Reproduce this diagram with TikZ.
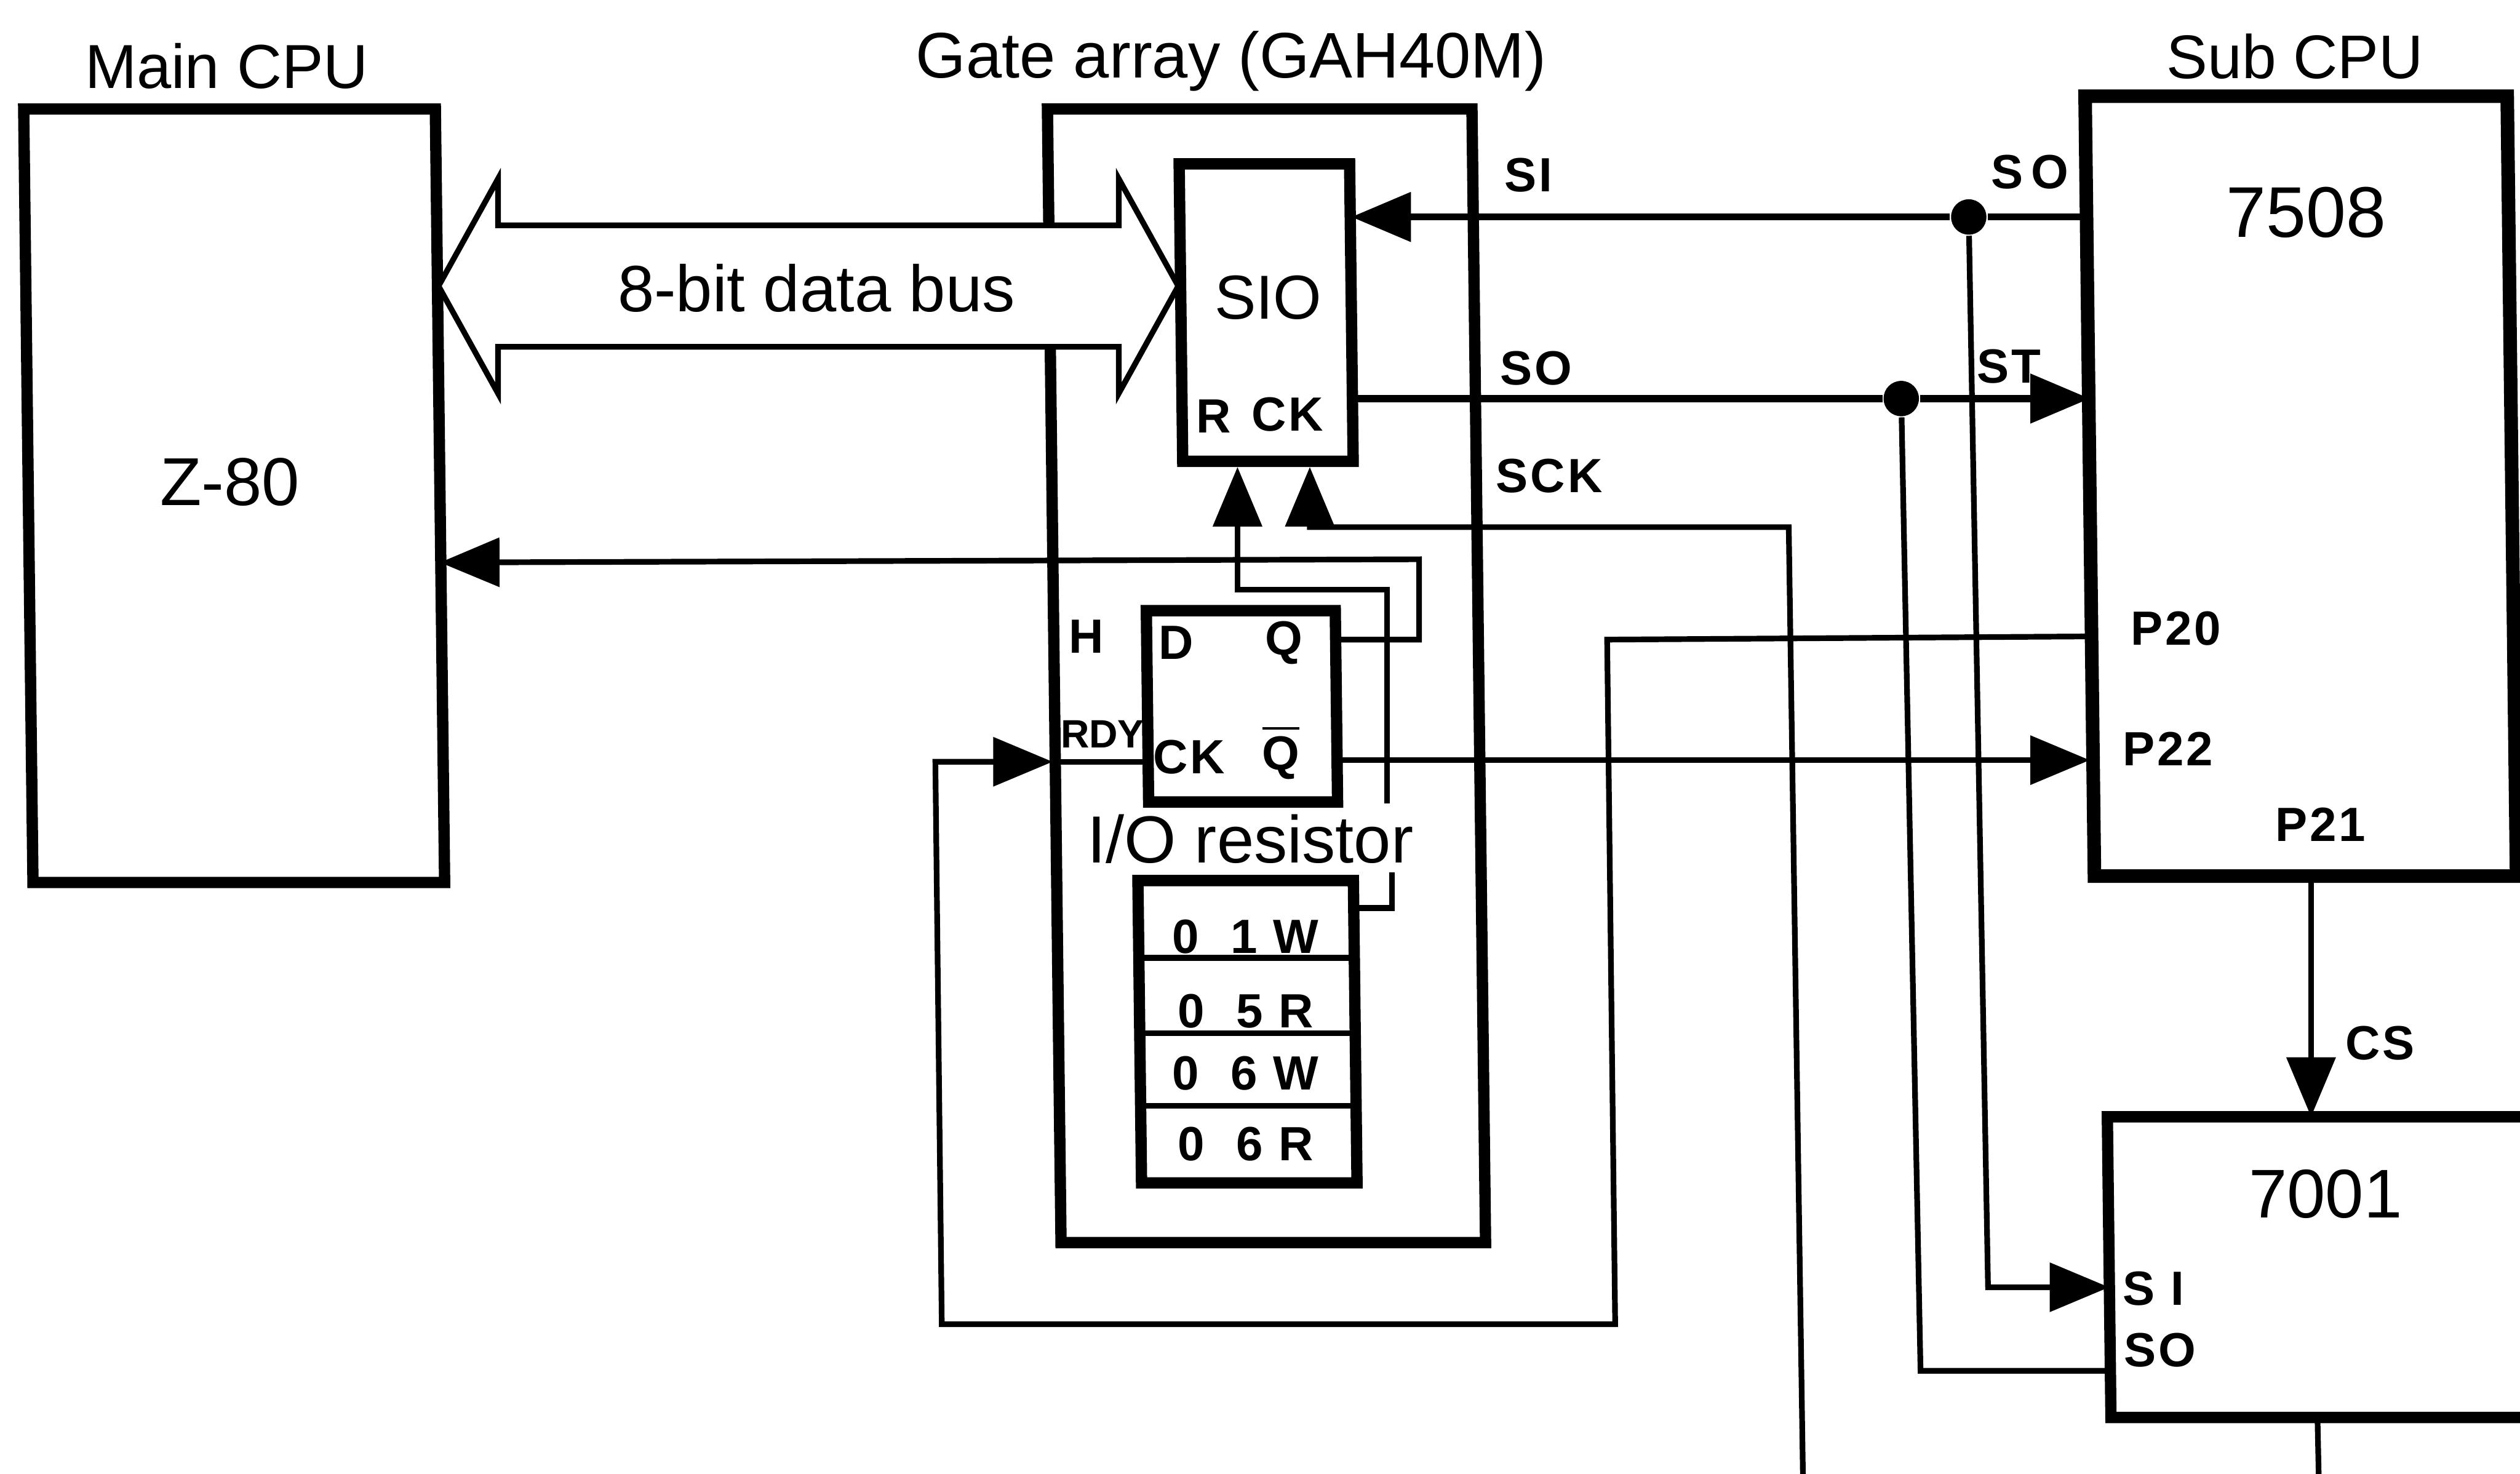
\documentclass[tikz,border=0pt]{standalone}
\usepackage{fontspec}
\setmainfont{Liberation Sans}
\newfontfamily\pinfont[LetterSpace=5.0]{Liberation Sans}
\usetikzlibrary{arrows.meta,shapes.arrows}
\tikzset{
    box/.style={draw, line width=2pt, outer sep=0pt, transform shape, minimum width=#1},
    wire/.style={line width=1pt},
    joint/.style={circle, fill, inner sep=0pt, minimum size=2.2mm},
    title/.style={inner sep=0pt},
    pinlabel/.style={font=\pinfont\fontsize{8.5pt}{10pt}\selectfont\bfseries, inner sep=0pt},
    busarrow/.style={draw, line width=1pt, fill=white, shape=double arrow,
        double arrow tip angle=122, double arrow head extend=2.9mm,
        text height=3.6mm, text depth=0.4mm, inner ysep=1.6mm, inner xsep=0pt,
        minimum height=4.6cm, font=\fontsize{11.6pt}{14pt}\selectfont},
}
\begin{document}
\begin{tikzpicture}[x=0.01cm, y=-0.01cm, >={Triangle[length=3.7mm,width=3mm]}]
    \useasboundingbox (0,0) rectangle (1568,917);
    \clip (0,0) rectangle (1568,917);
    % boxes, the page leans a little
    \begin{scope}[xslant=-0.012]
        \node[box=2.56cm, minimum height=4.81cm] (main) at (142,308.5) {};
        \node[box=2.64cm, minimum height=7.05cm] (gate) at (783,420.5) {};
        \node[box=2.625cm, minimum height=4.85cm, line width=2.4pt] (sub) at (1428,302.5) {};
        \node[box=3.37cm, minimum height=1.87cm] (seven) at (1471.5,788.5) {};
    \end{scope}
    % data bus goes over the gate array edge
    \node[busarrow] (bus) at (503,178) {\hspace*{1mm}8-bit data bus};
    \begin{scope}[xslant=-0.012]
        \node[box=1.06cm, minimum height=1.85cm, fill=white, outer ysep=1pt] (sio) at (785.5,194.5) {};
        \node[box=1.175cm, minimum height=1.19cm] (ff) at (767.5,439.5) {};
        \node[box=1.34cm, minimum height=1.88cm] (reg) at (768.5,642) {};
    \end{scope}
    \foreach \divy in {596,643,688}
        \draw[wire] (reg.west |- 0,\divy) -- (reg.east |- 0,\divy);
    % large labels
    \foreach \lx/\ly/\lsize/\ltext [count=\li] in {
        141/41/11/Main CPU, 766/38/11.4/Gate array (GAH40M), 1428/35/10.9/Sub CPU,
        143/300/12/Z-80, 1435/132/12.7/7508, 789/185/11/SIO, 1447/743/12.2/7001, 778/522/11.8/I\slash O resistor}
        \node[title, font=\fontsize{\lsize pt}{14pt}\selectfont] (big\li) at (\lx,\ly) {\ltext};
    % pin labels
    \foreach \lx/\ly/\ltext [count=\li] in {
        951/109/SI, 1263/107/S\,O, 956/229/SO, 1250/228/ST, 964/296/SCK,
        755/259/R, 801/258/CK, 676/396/H, 732/400/D, 799/400/Q,
        740/471/CK, 797/468/$\overline{\hbox{Q}}$, 1354/391/P20, 1349/466/P22, 1444/513/P21,
        1481/649/CS, 1340/802/S I, 1344/840/SO,
        775/583/0\ \ 1\ W, 775/629/0\ \ 5\ R, 775/668/0\ \ 6\ W, 775/712/0\ \ 6\ R}
        \node[pinlabel] (pin\li) at (\lx,\ly) {\ltext};
    \node[pinlabel, font=\fontsize{7pt}{8pt}\selectfont\bfseries] (pinrdy) at (686,457) {RDY};
    % joints
    \node[joint] (dotsi) at (1225,135) {};
    \node[joint] (dotso) at (1183,248) {};
    \coordinate (ckin) at (655,474);
    \coordinate (rtop) at (863,500);
    \coordinate (rbot) at (866,543);
    % wires
    \draw[wire,line width=1.25pt,->] (sub.west |- dotsi) -- (dotsi) -- (sio.east |- dotsi);
    \draw[wire,->] (dotsi) -- (1237,801) -- (seven.west |- 0,801);
    \draw[wire,line width=1.25pt,->] (sio.east |- dotso) -- (dotso) -- (sub.west |- dotso);
    \draw[wire] (dotso) -- (1195,853) -- (seven.west |- 0,853);
    \draw[wire,->] (1122,930) -- (1113,328) -- (815,328) -- (sio.south -| 815,0);
    \draw[wire,->] (ff.east |- 0,398) -- (883,398) -- (883,348) -- (main.east |- 0,350);
    \draw[wire,->] (rtop) -- (863,367) -- (770,367) -- (sio.south -| 770,0);
    \draw[wire] (reg.east |- 0,565) -- (866,565) -- (rbot);
    \draw[wire,->] (ff.east |- 0,473) -- (sub.west |- 0,473);
    \draw[wire,->] (sub.west |- 0,396) -- (1000,398) -- (1005,824) -- (586,824) -- (582,474) -- (ckin);
    \draw[wire] (ckin) -- (ff.west |- ckin);
    \draw[wire,->] (sub.south -| 1438,0) -- (seven.north -| 1438,0);
    \draw[wire] (seven.south -| 1442,0) -- (1443,930);
\end{tikzpicture}
\end{document}
